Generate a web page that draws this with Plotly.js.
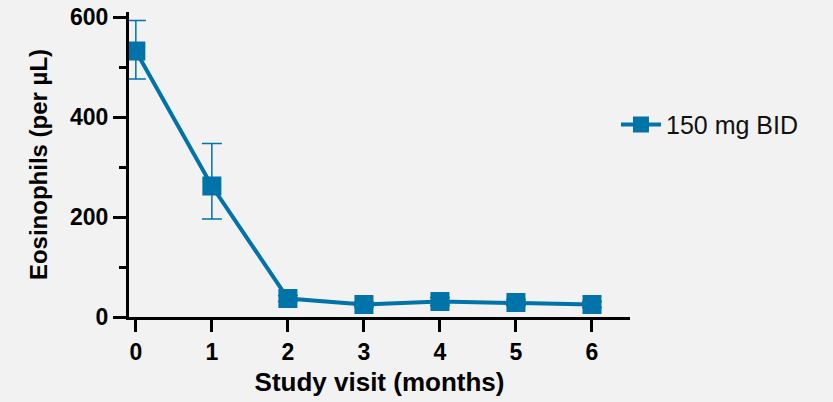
<!DOCTYPE html>
<html>
<head>
<meta charset="utf-8">
<script src="https://cdn.plot.ly/plotly-3.0.1.min.js"></script>
<style>html,body{margin:0;padding:0;background:#f2f2f2;}#chart{width:833px;height:402px;}</style>
</head>
<body>
<div id="chart"></div>
<script>
const months = [0, 1, 2, 3, 4, 5, 6];
const eosinophils = [532, 262, 37, 25, 31, 29, 25];
const errPlus = [61, 85, 6, 5, 8, 6, 6];
const errMinus = [56, 66, 6, 5, 8, 6, 6];
const seriesName = '150 mg BID';
const xTickLabels = ['0', '1', '2', '3', '4', '5', '6'];
const yTickVals = [0, 200, 400, 600];

const color = '#0073A9';
const font = 'Arial, "Liberation Sans", sans-serif';

const trace = {
  x: months, y: eosinophils, name: seriesName,
  type: 'scatter', mode: 'lines+markers',
  line: {color: color, width: 4},
  marker: {symbol: 'square', size: 19, color: color},
  error_y: {type: 'data', symmetric: false, array: errPlus, arrayminus: errMinus,
            color: color, thickness: 1.5, width: 10},
  cliponaxis: false
};

const layout = {
  width: 833, height: 402,
  paper_bgcolor: '#f2f2f2', plot_bgcolor: '#f2f2f2',
  margin: {l: 129, r: 203, t: 12, b: 85},
  font: {family: font, color: '#000'},
  showlegend: true,
  legend: {x: 0.972, xanchor: 'left', y: 0.63, yanchor: 'middle', itemwidth: 40,
           font: {size: 25, family: font, color: '#111'}, bgcolor: 'rgba(0,0,0,0)'},
  xaxis: {
    range: [-0.09, 6.5], tickvals: months, ticktext: xTickLabels,
    showgrid: false, zeroline: false, showline: true, linecolor: '#000', linewidth: 3,
    ticks: 'outside', ticklen: 12, tickwidth: 3, tickcolor: '#000',
    tickfont: {size: 23, family: font, weight: 'bold'},
    title: {text: 'Study visit (months)', font: {size: 26, family: font, weight: 'bold'}, standoff: 10}
  },
  yaxis: {
    range: [0, 610], tickvals: yTickVals,
    showgrid: false, zeroline: false, showline: true, linecolor: '#000', linewidth: 3,
    ticks: 'outside', ticklen: 13, tickwidth: 3, tickcolor: '#000',
    tickfont: {size: 23, family: font, weight: 'bold'},
    minor: {dtick: 100, tick0: 0, ticks: 'outside', ticklen: 7, tickwidth: 3, tickcolor: '#000', showgrid: false},
    title: {text: 'Eosinophils (per µL)', font: {size: 24, family: font, weight: 'bold'}, standoff: 16}
  }
};

Plotly.newPlot('chart', [trace], layout, {displayModeBar: false});
</script>
</body>
</html>
